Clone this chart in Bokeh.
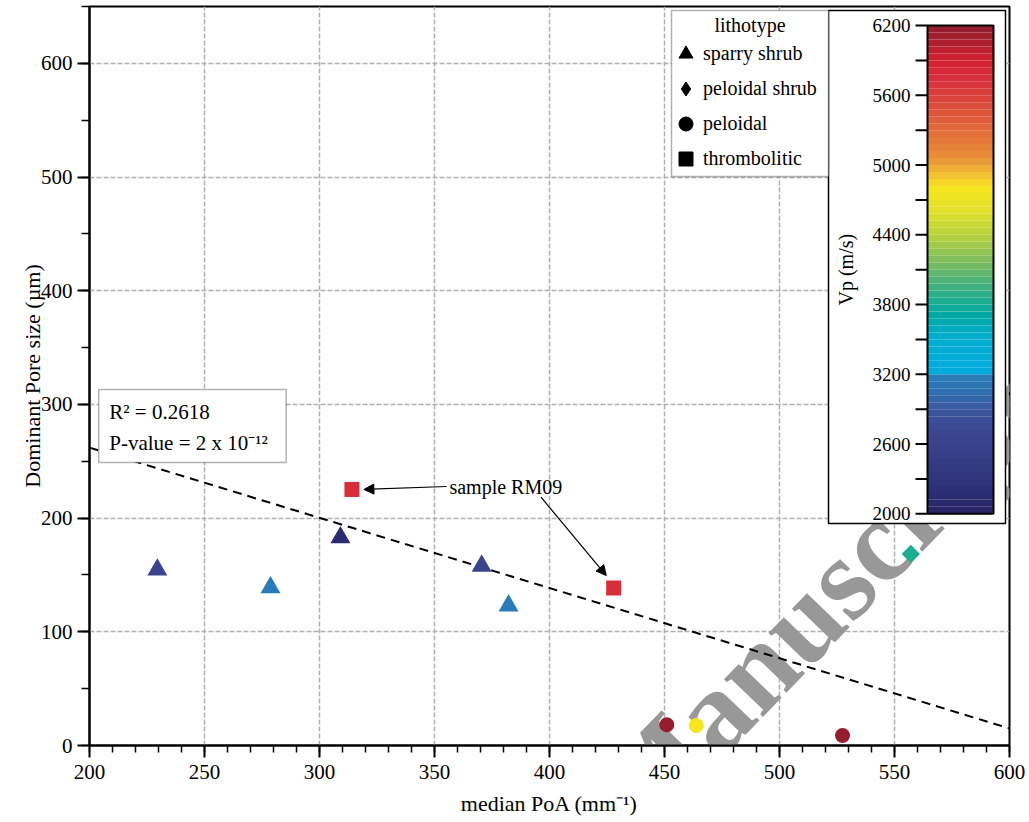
import numpy as np
from bokeh.plotting import figure
from bokeh.models import (ColumnDataSource, Range1d, SingleIntervalTicker, Legend, LegendItem,
                          Label, BoxAnnotation, Arrow, NormalHead)
from bokeh.transform import linear_cmap
from bokeh.core.properties import value
from bokeh.embed import file_html
from bokeh.resources import INLINE

FONT = "Liberation Serif"

# ---------------- data ----------------
lithotypes = ["sparry shrub", "peloidal shrub", "peloidal", "thrombolitic"]

sparry_x = [229.5, 278.7, 309.1, 370.5, 382.2]
sparry_y = [154.5, 139.0, 183.0, 158.0, 123.0]
sparry_vp = [2600, 3150, 2150, 2600, 3150]

pelshrub_x = [557.1]
pelshrub_y = [168.5]
pelshrub_vp = [3850]

peloidal_x = [451.0, 463.8, 527.4]
peloidal_y = [18.2, 17.6, 8.8]
peloidal_vp = [6200, 4800, 6200]

thromb_x = [314.1, 427.9]
thromb_y = [225.2, 138.6]
thromb_vp = [5750, 5750]

reg_x = [200, 600]
reg_y = [262, 15]

r2_text = "R\u00b2 = 0.2618"
p_text = "P-value = 2 x 10\u207b\u00b9\u00b2"

vp_low, vp_high = 2000, 6200
vp_ticks = [2000, 2600, 3200, 3800, 4400, 5000, 5600, 6200]

# annotation for sample RM09 (text position, arrow starts and ends)
rm09_text = (356.5, 227.8)
rm09_arrows = [((355.3, 227.8), (319.3, 225.2)),
               ((396.3, 218.4), (424.7, 149.5))]

# ---------------- colour palette (banded rainbow) ----------------
anchors = [
    (2000, "#262462"), (2200, "#2b2f76"), (2500, "#363f88"), (2700, "#3c4690"),
    (2900, "#3a569e"), (3050, "#2f6fb1"), (3170, "#2a7bb8"), (3180, "#03a9df"),
    (3500, "#00aed0"), (3700, "#00a8a6"), (3850, "#1fae8d"), (4000, "#4fb27a"),
    (4200, "#86bf5a"), (4400, "#b8d23d"), (4600, "#e1e02c"), (4800, "#f6e620"),
    (4900, "#f4c532"), (5050, "#e9933a"), (5300, "#e26a3a"), (5600, "#d9403b"),
    (5750, "#d72e3c"), (5900, "#d4202f"), (6050, "#b01f2e"), (6200, "#8f1d2b"),
]
NB = 70
_av = np.array([a[0] for a in anchors], float)
_ac = np.array([[int(c[1:3], 16), int(c[3:5], 16), int(c[5:7], 16)] for _, c in anchors], float)
_step = (vp_high - vp_low) / NB
_centers = vp_low + (np.arange(NB) + 0.5) * _step
PALETTE = []
for cval in _centers:
    rgb = [int(round(np.interp(cval, _av, _ac[:, k]))) for k in range(3)]
    PALETTE.append("#%02x%02x%02x" % tuple(rgb))

cmap = linear_cmap("vp", PALETTE, vp_low, vp_high)

# ---------------- figure ----------------
p = figure(width=1029, height=822, x_range=Range1d(200, 600), y_range=Range1d(0, 650),
           output_backend="svg", toolbar_location=None,
           min_border_left=89, min_border_right=20, min_border_top=6, min_border_bottom=77,
           background_fill_color="white", border_fill_color="white")
# helper ranges: pixels from frame left / frame top, and Vp for the colour bar
p.extra_x_ranges = {"px": Range1d(0, 920)}
p.extra_y_ranges = {"vp": Range1d(7.2, 6363.4), "py": Range1d(739, 0)}

xt = SingleIntervalTicker(interval=50, num_minor_ticks=5)
yt = SingleIntervalTicker(interval=100, num_minor_ticks=2)
p.xaxis.ticker = xt
p.yaxis.ticker = yt
p.xgrid.ticker = xt
p.ygrid.ticker = yt

for g in (p.xgrid, p.ygrid):
    g.grid_line_color = "#b0b0b0"
    g.grid_line_dash = "5 2"
    g.grid_line_width = 1.5

p.outline_line_color = "black"
p.outline_line_width = 2
p.outline_line_alpha = 1

p.xaxis.axis_label = "median PoA (mm\u207b\u00b9)"
p.yaxis.axis_label = "Dominant Pore size (\u00b5m)"
for ax in (p.xaxis, p.yaxis):
    ax.axis_line_width = 2
    ax.axis_line_color = "black"
    ax.major_tick_line_width = 2
    ax.minor_tick_line_width = 1.5
    ax.major_tick_in = 0
    ax.minor_tick_in = 0
    ax.major_tick_out = 12
    ax.minor_tick_out = 8
    ax.major_label_text_font = FONT
    ax.major_label_text_font_size = "21px"
    ax.major_label_text_color = "black"
    ax.axis_label_text_font = FONT
    ax.axis_label_text_font_size = "22px"
    ax.axis_label_text_font_style = "normal"
    ax.axis_label_text_color = "black"
p.xaxis.minor_tick_out = 7
p.xaxis.major_label_standoff = 7
p.xaxis.axis_label_standoff = 9
p.yaxis.major_label_standoff = 5
p.yaxis.axis_label_standoff = -7

# ---------------- watermark ----------------
wm = Label(x=428.0, y=-60.5, text="Manuscript", angle=46, angle_units="deg",
           text_font=FONT, text_font_style="bold", text_font_size="118px",
           text_color="#989898", text_align="left", text_baseline="alphabetic",
           level="underlay")
p.add_layout(wm)

# ---------------- colour bar (box, bands, ticks, labels) ----------------
p.quad(left=739, right=916, bottom=1917, top=6329, x_range_name="px", y_range_name="vp",
       fill_color="white", line_color="black", line_width=1.5)
cb_src = ColumnDataSource(dict(bottom=[vp_low + i * _step for i in range(NB)],
                               top=[vp_low + (i + 1) * _step for i in range(NB)],
                               color=PALETTE))
p.quad(left=838, right=904, bottom="bottom", top="top", fill_color="color", line_color=None,
       source=cb_src, x_range_name="px", y_range_name="vp")
p.quad(left=838, right=904, bottom=vp_low, top=vp_high, fill_color=None, line_color="black",
       line_width=2, x_range_name="px", y_range_name="vp")
all_ticks = []
for a, b in zip(vp_ticks[:-1], vp_ticks[1:]):
    all_ticks += [a, (a + b) / 2]
all_ticks.append(vp_ticks[-1])
p.segment(x0=826, x1=838, y0=all_ticks, y1=all_ticks, line_color="black", line_width=2,
          x_range_name="px", y_range_name="vp")
p.text(x=[821] * len(vp_ticks), y=vp_ticks, text=[str(v) for v in vp_ticks],
       text_align="right", text_baseline="middle", text_font=value(FONT),
       text_font_size="19px", text_color="black", x_range_name="px", y_range_name="vp")
p.add_layout(Label(x=756, y=4100, x_range_name="px", y_range_name="vp", text="Vp (m/s)",
                   angle=90, angle_units="deg", text_align="center", text_baseline="middle",
                   text_font=FONT, text_font_size="20px", text_color="black"))

# ---------------- regression line ----------------
p.line(reg_x, reg_y, line_color="black", line_width=2, line_dash="9 6")

# ---------------- points ----------------
def src(x, y, vp):
    return ColumnDataSource(dict(x=x, y=y, vp=vp))

p.scatter("x", "y", source=src(sparry_x, sparry_y, sparry_vp), marker="triangle", size=20,
          fill_color=cmap, line_color=None)
p.scatter("x", "y", source=src(pelshrub_x, pelshrub_y, pelshrub_vp), marker="square", size=13,
          angle=np.pi / 4, fill_color=cmap, line_color=None)
p.scatter("x", "y", source=src(peloidal_x, peloidal_y, peloidal_vp), marker="circle", size=15,
          fill_color=cmap, line_color=None)
p.scatter("x", "y", source=src(thromb_x, thromb_y, thromb_vp), marker="square", size=15,
          fill_color=cmap, line_color=None)

# ---------------- legend (black keys) ----------------
p.add_layout(BoxAnnotation(left=582, right=739, top=4, bottom=170,
                           x_range_name="px", y_range_name="py",
                           fill_color="white", fill_alpha=1, line_color="black", line_width=1.5))
key_markers = ["triangle", "diamond", "circle", "square"]
items = []
for name, mk in zip(lithotypes, key_markers):
    ksrc = ColumnDataSource(dict(x=np.array([np.nan]), y=np.array([np.nan])))
    r = p.scatter("x", "y", source=ksrc, marker=mk, fill_color="black", line_color="black")
    items.append(LegendItem(label=name, renderers=[r]))
legend = Legend(items=items, location=(579, 569),
                padding=0, spacing=0, margin=0,
                glyph_height=35, glyph_width=35, label_height=35, label_width=118,
                label_standoff=0,
                border_line_alpha=0, background_fill_alpha=0,
                label_text_font=FONT, label_text_font_size="20px", label_text_color="black")
p.add_layout(legend)
p.add_layout(Label(x=660.5, y=18, x_range_name="px", y_range_name="py", text="lithotype",
                   text_align="center", text_baseline="middle",
                   text_font=FONT, text_font_size="20px", text_color="black"))

# ---------------- R2 box ----------------
p.add_layout(BoxAnnotation(left=204, right=285.5, bottom=248.9, top=313.1,
                           fill_color="white", fill_alpha=1, line_color="black", line_width=1.5))
p.add_layout(Label(x=208.6, y=292.9, text=r2_text, text_baseline="middle", text_align="left",
                   text_font=FONT, text_font_size="21px", text_color="black"))
p.add_layout(Label(x=208.6, y=266.5, text=p_text, text_baseline="middle", text_align="left",
                   text_font=FONT, text_font_size="21px", text_color="black"))

# ---------------- sample RM09 annotation ----------------
p.add_layout(Label(x=rm09_text[0], y=rm09_text[1], text="sample RM09", text_baseline="middle",
                   text_align="left", text_font=FONT, text_font_size="20px", text_color="black"))
for (xs, ys), (xe, ye) in rm09_arrows:
    p.add_layout(Arrow(end=NormalHead(size=10, fill_color="black", line_color="black", line_width=1),
                       x_start=xs, y_start=ys, x_end=xe, y_end=ye,
                       line_color="black", line_width=1.2))

open("out.html", "w").write(file_html(p, INLINE))
